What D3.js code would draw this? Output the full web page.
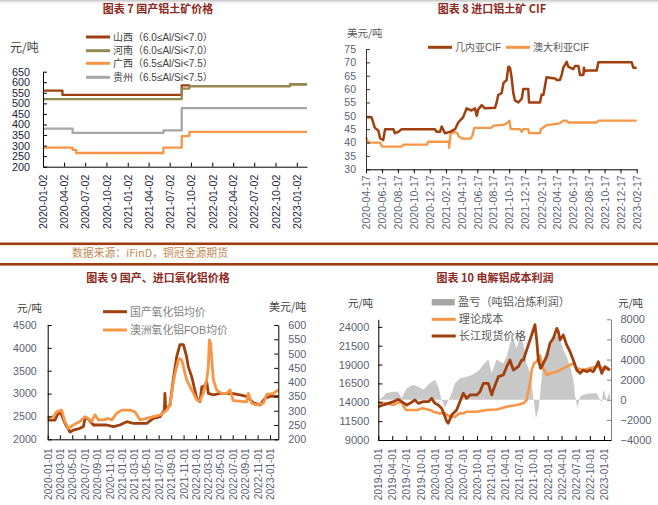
<!DOCTYPE html>
<html>
<head>
<meta charset="utf-8">
<script src="https://cdn.jsdelivr.net/npm/d3@7"></script>
<style>
    body { margin: 0; background: #ffffff; }
</style>
</head>
<body>
<svg id="chart" width="658" height="505"></svg>
<script>
// ---- chart 7: domestic bauxite (step series) ----
const ticks7 = ["2020-01-02", "2020-04-02", "2020-07-02", "2020-10-02", "2021-01-02", "2021-04-02", "2021-07-02",
    "2021-10-02", "2022-01-02", "2022-04-02", "2022-07-02", "2022-10-02", "2023-01-02"];
const yTicks7 = [200, 250, 300, 350, 400, 450, 500, 550, 600, 650];
const shanxi7 = [["2020-01-02", 560], ["2020-03-26", 540], ["2021-08-23", 585], ["2021-09-25", 582], ["2022-12-04", 590], ["2023-02-15", 590]];
const henan7 = [["2020-01-02", 520], ["2021-08-23", 570], ["2021-09-25", 582], ["2022-12-04", 590], ["2023-02-15", 590]];
const guangxi7 = [["2020-01-02", 290], ["2020-05-09", 280], ["2020-05-24", 265], ["2021-06-05", 290], ["2021-08-23", 345], ["2021-09-25", 365], ["2023-02-15", 365]];
const guizhou7 = [["2020-01-02", 380], ["2020-05-09", 360], ["2021-06-05", 372], ["2021-08-23", 477], ["2023-02-15", 477]];

// ---- chart 8: imported bauxite CIF ----
const ticks8 = ["2020-04-17", "2020-06-17", "2020-08-17", "2020-10-17", "2020-12-17", "2021-02-17", "2021-04-17", "2021-06-17",
    "2021-08-17", "2021-10-17", "2021-12-17", "2022-02-17", "2022-04-17", "2022-06-17", "2022-08-17", "2022-10-17",
    "2022-12-17", "2023-02-17"];
const yTicks8 = [30, 35, 40, 45, 50, 55, 60, 65, 70, 75];
const guinea8 = [["2020-04-17", 49.5], ["2020-05-08", 49.5], ["2020-05-21", 45.5], ["2020-06-03", 44.5], ["2020-06-10", 41.6],
    ["2020-06-22", 41], ["2020-06-29", 45], ["2020-07-31", 45], ["2020-08-06", 43.5], ["2020-08-19", 44], ["2020-08-31", 45],
    ["2021-01-06", 45], ["2021-01-12", 44], ["2021-01-25", 44], ["2021-02-01", 46], ["2021-02-13", 43.5], ["2021-03-04", 44],
    ["2021-03-24", 45], ["2021-04-05", 47.5], ["2021-04-24", 49.5], ["2021-05-07", 52.8], ["2021-05-26", 52], ["2021-06-08", 52.8],
    ["2021-06-15", 50], ["2021-06-21", 52.5], ["2021-07-04", 54], ["2021-07-16", 52.8], ["2021-08-24", 53], ["2021-08-30", 55],
    ["2021-09-05", 57.8], ["2021-09-18", 58.5], ["2021-09-25", 62.2], ["2021-10-07", 63.4], ["2021-10-14", 68.4], ["2021-10-20", 68],
    ["2021-10-26", 64.6], ["2021-11-02", 58.4], ["2021-11-08", 55.8], ["2021-11-21", 55], ["2021-12-04", 56.4], ["2021-12-10", 60],
    ["2021-12-29", 60], ["2022-01-01", 55], ["2022-02-12", 55], ["2022-02-18", 57.9], ["2022-02-25", 57.9], ["2022-03-09", 64.4],
    ["2022-04-10", 64], ["2022-04-17", 63.4], ["2022-04-29", 63.4], ["2022-05-06", 65.3], ["2022-05-12", 68], ["2022-05-25", 70.2],
    ["2022-05-31", 68.4], ["2022-06-19", 67.5], ["2022-06-26", 68.6], ["2022-07-09", 68.6], ["2022-07-15", 65.3], ["2022-07-28", 65.3],
    ["2022-07-30", 68], ["2022-08-03", 66.7], ["2022-08-16", 67], ["2022-09-17", 67], ["2022-09-23", 70], ["2023-01-29", 70],
    ["2023-02-04", 68], ["2023-02-17", 68]];
const australia8 = [["2020-04-17", 42], ["2020-04-26", 40], ["2020-06-10", 40], ["2020-06-17", 38.5], ["2020-08-31", 38.5],
    ["2020-09-07", 39.2], ["2020-12-07", 39.2], ["2020-12-10", 40.3], ["2021-02-28", 40.3], ["2021-03-01", 38], ["2021-03-07", 43.5],
    ["2021-03-14", 43.5], ["2021-03-20", 44], ["2021-04-02", 43.5], ["2021-04-08", 42.2], ["2021-04-21", 41.5], ["2021-05-23", 41.5],
    ["2021-05-30", 42.8], ["2021-06-05", 45.5], ["2021-08-10", 45.5], ["2021-08-17", 46.3], ["2021-09-25", 46.6], ["2021-10-08", 47.2],
    ["2021-10-18", 48.2], ["2021-10-23", 45], ["2021-11-27", 45], ["2021-12-04", 44], ["2021-12-10", 45], ["2021-12-29", 45],
    ["2022-01-01", 43.5], ["2022-02-12", 43.5], ["2022-02-15", 45], ["2022-03-09", 46.5], ["2022-04-29", 47.2], ["2022-05-12", 48.2],
    ["2022-05-25", 48.2], ["2022-05-31", 47.5], ["2022-09-17", 47.5], ["2022-09-23", 48.2], ["2023-02-17", 48.2]];

// ---- chart 9: alumina prices ----
const ticks9 = ["2020-01-01", "2020-03-01", "2020-05-01", "2020-07-01", "2020-09-01", "2020-11-01", "2021-01-01", "2021-03-01",
    "2021-05-01", "2021-07-01", "2021-09-01", "2021-11-01", "2022-01-01", "2022-03-01", "2022-05-01", "2022-07-01",
    "2022-09-01", "2022-11-01", "2023-01-01"];
const yTicks9L = [2000, 2500, 3000, 3500, 4000, 4500];
const yTicks9R = [200, 250, 300, 350, 400, 450, 500, 550, 600];
const domestic9 = [["2020-01-01", 2420], ["2020-02-06", 2420], ["2020-02-17", 2530], ["2020-03-02", 2600], ["2020-03-10", 2530],
    ["2020-03-26", 2350], ["2020-04-20", 2160], ["2020-05-06", 2200], ["2020-06-08", 2240], ["2020-06-25", 2280], ["2020-07-03", 2460],
    ["2020-07-14", 2460], ["2020-07-28", 2400], ["2020-08-13", 2313], ["2020-09-15", 2313], ["2020-10-18", 2313], ["2020-11-20", 2276],
    ["2020-12-22", 2313], ["2021-01-25", 2385], ["2021-02-26", 2350], ["2021-05-03", 2350], ["2021-06-05", 2460], ["2021-07-08", 2495],
    ["2021-07-29", 2640], ["2021-08-01", 3006], ["2021-08-05", 2640], ["2021-08-26", 2750], ["2021-09-11", 3300], ["2021-09-28", 3806],
    ["2021-10-14", 4070], ["2021-10-31", 4070], ["2021-11-16", 3806], ["2021-11-24", 3590], ["2021-12-11", 3370], ["2022-01-05", 2897],
    ["2022-01-21", 2825], ["2022-01-30", 3150], ["2022-02-10", 3150], ["2022-02-23", 3260], ["2022-03-03", 3006], ["2022-03-28", 2970],
    ["2022-04-30", 3006], ["2022-06-02", 3006], ["2022-07-04", 3000], ["2022-08-06", 2970], ["2022-09-08", 2940], ["2022-10-11", 2800],
    ["2022-11-13", 2750], ["2022-12-08", 2900], ["2023-01-01", 2940], ["2023-02-11", 2940]];
const australiaFob9 = [["2020-01-01", 275], ["2020-01-29", 279], ["2020-02-14", 296], ["2020-03-10", 302], ["2020-03-26", 262],
    ["2020-04-12", 238], ["2020-05-06", 250], ["2020-06-08", 262], ["2020-07-03", 279], ["2020-07-19", 273], ["2020-08-05", 262],
    ["2020-08-21", 286], ["2020-09-07", 268], ["2020-10-01", 268], ["2020-10-26", 273], ["2020-11-12", 268], ["2020-12-06", 291],
    ["2020-12-31", 302], ["2021-02-10", 302], ["2021-03-06", 296], ["2021-03-31", 268], ["2021-05-03", 273], ["2021-06-05", 279],
    ["2021-07-08", 285], ["2021-08-10", 302], ["2021-08-26", 320], ["2021-09-11", 396], ["2021-09-20", 431], ["2021-10-06", 477],
    ["2021-10-14", 483], ["2021-10-23", 477], ["2021-10-31", 454], ["2021-11-16", 408], ["2021-12-11", 373], ["2022-01-05", 338],
    ["2022-01-21", 335], ["2022-02-06", 361], ["2022-02-23", 408], ["2022-03-03", 454], ["2022-03-08", 548], ["2022-03-15", 536],
    ["2022-03-20", 477], ["2022-03-28", 408], ["2022-04-13", 373], ["2022-05-08", 361], ["2022-06-02", 361], ["2022-06-18", 373],
    ["2022-07-04", 335], ["2022-09-08", 331], ["2022-09-16", 361], ["2022-10-03", 326], ["2022-10-28", 320], ["2022-11-29", 326],
    ["2022-12-16", 357], ["2023-01-18", 361], ["2023-02-11", 373]];

// ---- chart 10: electrolytic aluminium cost / profit ----
const ticks10 = ["2019-01-01", "2019-04-01", "2019-07-01", "2019-10-01", "2020-01-01", "2020-04-01", "2020-07-01", "2020-10-01",
    "2021-01-01", "2021-04-01", "2021-07-01", "2021-10-01", "2022-01-01", "2022-04-01", "2022-07-01", "2022-10-01", "2023-01-01"];
const yTicks10L = [9000, 11500, 14000, 16500, 19000, 21500, 24000];
const yTicks10R = [-4000, -2000, 0, 2000, 4000, 6000, 8000];
const profit10 = [["2019-01-01", 0], ["2019-02-02", 300], ["2019-02-18", 650], ["2019-04-08", 800], ["2019-05-10", 800],
    ["2019-06-01", 150], ["2019-07-04", 1150], ["2019-08-15", 1500], ["2019-09-17", 1300], ["2019-10-19", 1000], ["2019-12-01", 1650],
    ["2020-01-03", 2000], ["2020-01-24", 1300], ["2020-02-15", 0], ["2020-03-08", -800], ["2020-03-29", -100], ["2020-04-20", 650],
    ["2020-05-11", 1650], ["2020-06-12", 2150], ["2020-07-26", 2300], ["2020-09-07", 2500], ["2020-10-20", 3000], ["2020-11-11", 3500],
    ["2020-12-13", 4000], ["2021-01-04", 2650], ["2021-02-05", 4000], ["2021-03-20", 3600], ["2021-04-11", 4300], ["2021-05-02", 5600],
    ["2021-05-24", 6100], ["2021-06-14", 5100], ["2021-07-06", 6270], ["2021-07-28", 5600], ["2021-08-18", 3600], ["2021-09-09", 2650],
    ["2021-09-30", 300], ["2021-10-17", -1850], ["2021-11-02", -1000], ["2021-11-12", 300], ["2021-12-04", 4000], ["2021-12-26", 5000],
    ["2022-01-16", 5300], ["2022-02-07", 5900], ["2022-03-01", 6450], ["2022-03-22", 5900], ["2022-04-12", 5000], ["2022-05-04", 4300],
    ["2022-05-26", 3300], ["2022-06-16", 2000], ["2022-06-27", 500], ["2022-07-12", -800], ["2022-07-30", 300], ["2022-08-20", 500],
    ["2022-10-02", 650], ["2022-11-15", 650], ["2022-12-17", -300], ["2022-12-28", 1000], ["2023-01-18", 0], ["2023-02-08", 800]];
const cost10 = [["2019-01-01", 14000], ["2019-02-18", 13860], ["2019-04-08", 13640], ["2019-04-29", 13860], ["2019-06-01", 14080],
    ["2019-06-15", 13415], ["2019-06-30", 12980], ["2019-09-10", 12980], ["2019-10-13", 13200], ["2019-12-01", 12980],
    ["2019-12-22", 12750], ["2020-02-03", 12530], ["2020-03-08", 12530], ["2020-04-08", 12090], ["2020-05-11", 12100],
    ["2020-06-12", 12530], ["2020-07-04", 12530], ["2020-07-26", 12750], ["2020-09-29", 12750], ["2020-12-02", 12980],
    ["2021-02-05", 13050], ["2021-04-11", 13415], ["2021-06-14", 13640], ["2021-07-28", 13860], ["2021-08-18", 14300],
    ["2021-09-09", 16510], ["2021-09-20", 18280], ["2021-10-05", 19160], ["2021-10-22", 19400], ["2021-11-12", 20200],
    ["2021-12-04", 18500], ["2021-12-26", 17620], ["2022-01-16", 17840], ["2022-03-01", 18060], ["2022-04-12", 18500],
    ["2022-05-26", 18940], ["2022-06-16", 19160], ["2022-07-08", 18500], ["2022-08-20", 18280], ["2022-10-02", 18500],
    ["2022-11-15", 18720], ["2022-12-28", 18500], ["2023-02-08", 18280]];
const spot10 = [["2019-01-01", 13415], ["2019-02-02", 13640], ["2019-03-07", 13860], ["2019-04-08", 14080], ["2019-05-10", 14390],
    ["2019-06-01", 14080], ["2019-07-04", 13640], ["2019-07-25", 13860], ["2019-08-26", 14300], ["2019-09-17", 13860],
    ["2019-10-19", 14080], ["2019-11-21", 14080], ["2019-12-12", 14520], ["2020-01-03", 13860], ["2020-01-24", 13640],
    ["2020-02-15", 13200], ["2020-03-08", 12090], ["2020-03-19", 11430], ["2020-03-29", 11210], ["2020-04-20", 12310],
    ["2020-05-22", 12980], ["2020-07-04", 15190], ["2020-07-26", 14520], ["2020-08-17", 14970], ["2020-09-29", 14970],
    ["2020-10-20", 15400], ["2020-11-11", 16510], ["2020-12-13", 16510], ["2021-01-04", 14970], ["2021-01-14", 15630],
    ["2021-02-16", 17400], ["2021-03-20", 17620], ["2021-04-11", 18720], ["2021-05-02", 19600], ["2021-05-24", 18280],
    ["2021-06-25", 18720], ["2021-07-17", 19600], ["2021-07-28", 19600], ["2021-08-18", 20930], ["2021-09-09", 22260],
    ["2021-09-30", 23580], ["2021-10-11", 24300], ["2021-10-22", 22260], ["2021-11-02", 19600], ["2021-11-17", 18500],
    ["2021-12-04", 19160], ["2021-12-26", 20040], ["2022-01-16", 21820], ["2022-02-07", 22480], ["2022-03-01", 23800],
    ["2022-03-11", 23360], ["2022-03-22", 22260], ["2022-04-12", 22920], ["2022-05-04", 21600], ["2022-05-26", 20710],
    ["2022-06-16", 19600], ["2022-07-08", 18280], ["2022-07-30", 17840], ["2022-08-20", 18280], ["2022-09-11", 18060],
    ["2022-10-02", 18280], ["2022-10-24", 18060], ["2022-11-15", 18940], ["2022-11-25", 19380], ["2022-12-17", 17840],
    ["2023-01-07", 18720], ["2023-02-08", 18280]];

const DARK = "#A0400F";
const ORANGE = "#F79646";
const OLIVE = "#948A54";
const GRAY = "#A6A6A6";
const TITLE_COLOR = "#8B2A1E";
const RULE_COLOR = "#9C3A10";
const TICK_COLOR = "#5A5F73";
const FONT = "'Liberation Sans', 'Noto Sans CJK SC', sans-serif";
const CJK = "'Noto Sans CJK SC', 'Liberation Sans', sans-serif";

const parse = d3.utcParse("%Y-%m-%d");
const dateFmt = d3.utcFormat("%Y-%m-%d");
const numFmt = d3.format("d");
const svg = d3.select("#chart");

function styleAxis(g, lineColor, textColor, fontSize) {
    g.select(".domain").attr("stroke", lineColor).attr("stroke-width", 1);
    g.selectAll(".tick line").attr("stroke", lineColor);
    g.selectAll(".tick text")
        .attr("fill", textColor)
        .style("font-size", fontSize + "px")
        .style("font-family", FONT);
}

function rotateDates(g, offset) {
    g.selectAll(".tick text")
        .attr("transform", "rotate(-90)")
        .attr("text-anchor", "end")
        .attr("x", -offset)
        .attr("y", 0)
        .attr("dy", "0.35em");
}

function drawLine(data, x, y, color, width, curve) {
    svg.append("path")
        .datum(data)
        .attr("fill", "none")
        .attr("stroke", color)
        .attr("stroke-width", width)
        .attr("stroke-linejoin", "round")
        .attr("d", d3.line()
            .x(d => x(parse(d[0])))
            .y(d => y(d[1]))
            .curve(curve || d3.curveLinear));
}

function addText(x, y, str, size, color, opts) {
    opts = opts || {};
    return svg.append("text")
        .attr("x", x)
        .attr("y", y)
        .attr("text-anchor", opts.anchor || "start")
        .attr("fill", color)
        .style("font-size", size + "px")
        .style("font-weight", opts.bold ? "bold" : "normal")
        .style("font-family", opts.font || CJK)
        .text(str);
}

function legendLine(x, y, color, label, size, textColor) {
    svg.append("line")
        .attr("x1", x).attr("x2", x + 24)
        .attr("y1", y).attr("y2", y)
        .attr("stroke", color)
        .attr("stroke-width", 3);
    addText(x + 27, y + size * 0.36, label, size, textColor, {font: FONT});
}

// faint shadow along the top edge (drawn first, under everything)
let grad = svg.append("defs").append("linearGradient")
    .attr("id", "topShade").attr("x1", 0).attr("x2", 0).attr("y1", 0).attr("y2", 1);
grad.append("stop").attr("offset", "0%").attr("stop-color", "#9a9a9a").attr("stop-opacity", 0.6);
grad.append("stop").attr("offset", "100%").attr("stop-color", "#ffffff").attr("stop-opacity", 0);
svg.append("rect").attr("x", 0).attr("y", 0).attr("width", 658).attr("height", 5).attr("fill", "url(#topShade)");

// ---------- chart 7 ----------
let x7 = d3.scaleUtc().domain([parse("2020-01-02"), parse("2023-02-15")]).range([43, 307]);
let y7 = d3.scaleLinear().domain([200, 650]).range([166.7, 71.7]);

drawLine(guizhou7, x7, y7, GRAY, 2.3, d3.curveStepAfter);
drawLine(guangxi7, x7, y7, ORANGE, 2.3, d3.curveStepAfter);
drawLine(shanxi7, x7, y7, DARK, 2.3, d3.curveStepAfter);
drawLine(henan7, x7, y7, OLIVE, 2.3, d3.curveStepAfter);

svg.append("g")
    .attr("transform", "translate(43,0)")
    .call(d3.axisLeft(y7).tickValues(yTicks7).tickFormat(numFmt).tickSize(-4).tickSizeOuter(0).tickPadding(13))
    .call(g => styleAxis(g, "#000", "#1B1B3A", 10.8));
svg.append("g")
    .attr("transform", "translate(0,166.7)")
    .call(d3.axisBottom(x7).tickValues(ticks7.map(parse)).tickFormat(dateFmt).tickSize(-4).tickSizeOuter(0))
    .call(g => styleAxis(g, "#000", "#1B1B3A", 10.6))
    .call(g => rotateDates(g, 8));

addText(10, 52, "元/吨", 12, "#404040");
legendLine(86, 37, DARK, "山西（6.0≤Al/Si<7.0）", 10, "#404040");
legendLine(86, 50.7, OLIVE, "河南（6.0≤Al/Si<7.0）", 10, "#404040");
legendLine(86, 63.3, ORANGE, "广西（6.5≤Al/Si<7.5）", 10, "#404040");
legendLine(86, 77.3, GRAY, "贵州（6.5≤Al/Si<7.5）", 10, "#404040");

// ---------- chart 8 ----------
let x8 = d3.scaleUtc().domain([parse("2020-04-17"), parse("2023-02-17")]).range([366, 636.7]);
let y8 = d3.scaleLinear().domain([30, 75]).range([169.3, 49]);

drawLine(australia8, x8, y8, ORANGE, 2.3);
drawLine(guinea8, x8, y8, DARK, 2.5);

svg.append("g")
    .attr("transform", "translate(366,0)")
    .call(d3.axisLeft(y8).tickValues(yTicks8).tickFormat(numFmt).tickSize(-4).tickSizeOuter(0).tickPadding(10))
    .call(g => styleAxis(g, "#333", TICK_COLOR, 10.5));
svg.append("g")
    .attr("transform", "translate(0,169.3)")
    .call(d3.axisBottom(x8).tickValues(ticks8.map(parse)).tickFormat(dateFmt).tickSize(4).tickSizeOuter(0))
    .call(g => styleAxis(g, "#000", TICK_COLOR, 10.6))
    .call(g => rotateDates(g, 6));

addText(347, 37, "美元/吨", 10.5, "#595959");
legendLine(428, 47.3, DARK, "几内亚CIF", 10, "#595959");
legendLine(506, 47.3, ORANGE, "澳大利亚CIF", 10, "#595959");

// ---------- chart 9 ----------
let x9 = d3.scaleUtc().domain([parse("2020-01-01"), parse("2023-02-11")]).range([47.7, 278.3]);
let y9L = d3.scaleLinear().domain([2000, 4500]).range([439.3, 325]);
let y9R = d3.scaleLinear().domain([200, 600]).range([439.3, 325]);

drawLine(domestic9, x9, y9L, DARK, 2.8);
drawLine(australiaFob9, x9, y9R, ORANGE, 2.8);

svg.append("g")
    .attr("transform", "translate(47.7,0)")
    .call(d3.axisLeft(y9L).tickValues(yTicks9L).tickFormat(numFmt).tickSize(-4).tickSizeOuter(0).tickPadding(11))
    .call(g => styleAxis(g, "#000", TICK_COLOR, 10.6));
svg.append("g")
    .attr("transform", "translate(278.3,0)")
    .call(d3.axisRight(y9R).tickValues(yTicks9R).tickFormat(numFmt).tickSize(-4).tickSizeOuter(0).tickPadding(10))
    .call(g => styleAxis(g, "#000", TICK_COLOR, 10.8));
svg.append("g")
    .attr("transform", "translate(0,439.3)")
    .call(d3.axisBottom(x9).tickValues(ticks9.map(parse)).tickFormat(dateFmt).tickSize(-4).tickSizeOuter(0))
    .call(g => styleAxis(g, "#000", TICK_COLOR, 10.1))
    .call(g => rotateDates(g, 9));

addText(17, 312, "元/吨", 10.5, "#404040");
addText(269, 311, "美元/吨", 11, "#404040");
legendLine(103, 311.7, DARK, "国产氧化铝均价", 10.8, "#7F7F7F");
legendLine(103, 330, ORANGE, "澳洲氧化铝FOB均价", 10.8, "#7F7F7F");

// ---------- chart 10 ----------
let x10 = d3.scaleUtc().domain([parse("2019-01-01"), parse("2023-02-15")]).range([378.3, 611]);
let y10L = d3.scaleLinear().domain([9000, 25000]).range([440, 319.3]);
let y10R = d3.scaleLinear().domain([-4000, 8000]).range([440, 319.3]);

svg.append("path")
    .datum(profit10)
    .attr("fill", "#C8C8C8")
    .attr("d", d3.area()
        .x(d => x10(parse(d[0])))
        .y0(y10R(0))
        .y1(d => y10R(d[1])));
drawLine(cost10, x10, y10L, ORANGE, 2.6);
drawLine(spot10, x10, y10L, DARK, 2.8);

svg.append("g")
    .attr("transform", "translate(378.3,0)")
    .call(d3.axisLeft(y10L).tickValues(yTicks10L).tickFormat(numFmt).tickSize(-4).tickSizeOuter(0).tickPadding(9))
    .call(g => styleAxis(g, "#000", TICK_COLOR, 11));
svg.append("g")
    .attr("transform", "translate(611,0)")
    .call(d3.axisRight(y10R).tickValues(yTicks10R).tickFormat(numFmt).tickSize(-4).tickSizeOuter(0).tickPadding(9.5))
    .call(g => styleAxis(g, "#808080", TICK_COLOR, 11));
svg.append("g")
    .attr("transform", "translate(0,440)")
    .call(d3.axisBottom(x10).tickValues(ticks10.map(parse)).tickFormat(dateFmt).tickSize(-4).tickSizeOuter(0))
    .call(g => styleAxis(g, "#000", TICK_COLOR, 10.1))
    .call(g => rotateDates(g, 8.5));

addText(348, 307, "元/吨", 10.5, "#404040");
addText(618, 307, "元/吨", 10.5, "#404040");
svg.append("rect")
    .attr("x", 431.7).attr("y", 299)
    .attr("width", 23).attr("height", 6.5)
    .attr("fill", GRAY);
addText(458, 306, "盈亏（吨铝冶炼利润）", 11.2, "#595959", {font: FONT});
legendLine(431.7, 319.3, ORANGE, "理论成本", 11.2, "#595959");
legendLine(431.7, 336, DARK, "长江现货价格", 11.2, "#595959");

// ---------- titles, rules, source ----------
addText(158, 12.5, "图表 7  国产铝土矿价格", 11, TITLE_COLOR, {anchor: "middle", bold: true});
addText(492, 12.5, "图表 8  进口铝土矿 CIF", 11, TITLE_COLOR, {anchor: "middle", bold: true});
addText(158, 281.5, "图表 9  国产、进口氧化铝价格", 11, TITLE_COLOR, {anchor: "middle", bold: true});
addText(495, 281.5, "图表 10 电解铝成本利润", 11, TITLE_COLOR, {anchor: "middle", bold: true});

svg.append("rect").attr("x", 0).attr("y", 242.5).attr("width", 658).attr("height", 2.6).attr("fill", RULE_COLOR);
svg.append("rect").attr("x", 0).attr("y", 263).attr("width", 658).attr("height", 2.6).attr("fill", RULE_COLOR);
addText(72, 257.2, "数据来源：iFinD，铜冠金源期货", 11, "#C28A52")
    .attr("textLength", 156)
    .attr("lengthAdjust", "spacingAndGlyphs");
</script>
</body>
</html>
